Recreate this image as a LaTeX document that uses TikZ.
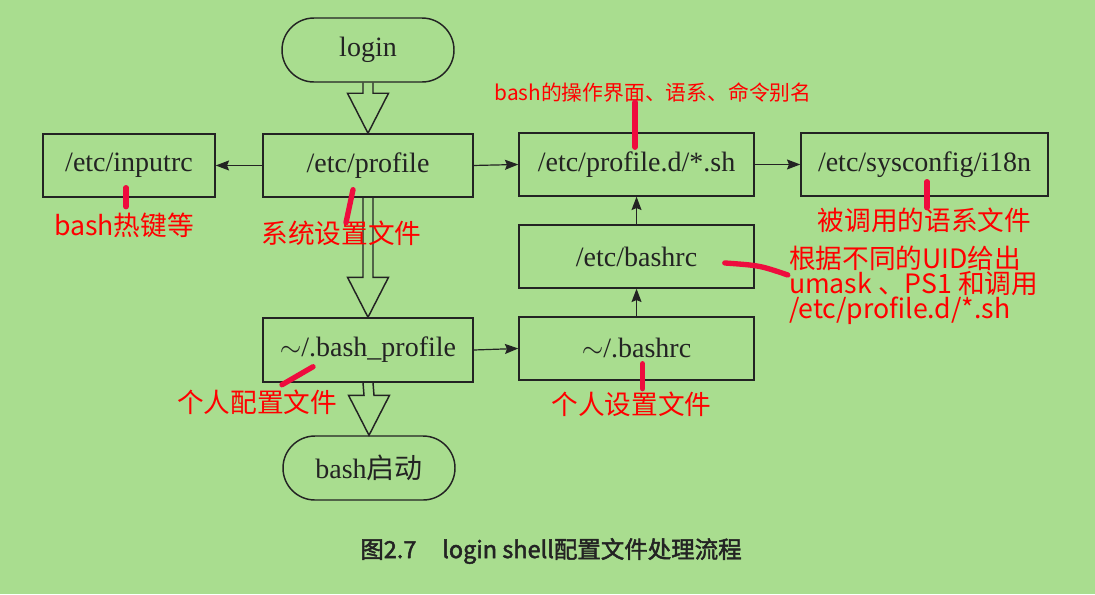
\documentclass[tikz,border=0pt]{standalone}
\usepackage{fontspec}
\setmainfont{Liberation Serif}
\newfontfamily\cjk{Noto Sans CJK SC}
\newfontfamily\capfont[FakeBold=2]{Noto Sans CJK SC}
\usepackage{tikz}
\usetikzlibrary{shapes,arrows.meta,calc,positioning}
\definecolor{paper}{RGB}{169,221,143}
\definecolor{ink}{RGB}{35,35,35}
\definecolor{pen}{RGB}{238,12,62}
\tikzset{
  block/.style    = {draw=ink, line width=1.1pt, rectangle, text=ink, minimum height=47.25pt, minimum width=157.5pt, font=\fontsize{21}{25}\selectfont},
  term/.style     = {block, rounded corners=24pt, minimum height=48pt, minimum width=129pt},
  link/.style     = {draw=ink, line width=0.9pt, -{Stealth[length=10pt,width=7.5pt,inset=1.5pt]}},
  note/.style     = {text=red, inner sep=1pt, font=\cjk\fontsize{20}{22}\selectfont},
  tick/.style     = {draw=pen, line width=4pt, line cap=round},
  fat/.style      = {draw=ink, line width=1.1pt, to path={
      ($(\tikztostart)+(-5,0)$) -- ($(\tikztotarget)+(-5,-40)$) -- ($(\tikztotarget)+(-20.5,-40)$)
      -- (\tikztotarget) -- ($(\tikztotarget)+(20.5,-40)$) -- ($(\tikztotarget)+(5,-40)$) -- ($(\tikztostart)+(5,0)$)}}
}

\begin{document}
\begin{tikzpicture}[x=0.75pt, y=-0.75pt]

\path[use as bounding box, fill=paper] (0,0) rectangle (1095,594);

% Main column
\node [term] (login) at (368,50) {login};
\node [block, below of=login, node distance=86.6pt] (profile) {/etc/profile};
\node [block, below of=profile, node distance=138.4pt, minimum height=48pt] (bashprofile) {$\sim$/.bash\_profile};
\node [term, below of=bashprofile, node distance=88.5pt, xshift=0.75pt] (bashstart) {bash{\cjk 启动}};

% Side boxes
\node [block, left of=profile, node distance=179.25pt, minimum width=129pt] (inputrc) {/etc/inputrc};
\node [block, right of=profile, node distance=201.4pt, minimum width=176.25pt, yshift=0.75pt] (profiled) {/etc/profile.d/*.sh};
\node [block, right of=profiled, node distance=216pt, minimum width=185.25pt] (i18n) {/etc/sysconfig/i18n};
\node [block, below of=profiled, node distance=69pt, minimum width=176.25pt] (bashrc) {/etc/bashrc};
\node [block, below of=bashrc, node distance=69pt, minimum width=176.25pt] (ubashrc) {$\sim$/.bashrc};

% Connections
\draw[fat] (login.south) to (profile.north);
\draw[fat] (profile.south) to (bashprofile.north);
\draw[fat] (bashprofile.south) to (bashstart.north);
\draw[link] (profile.west) -- (inputrc.east);
\draw[link] (profile.east) -- (profiled.west);
\draw[link] (profiled.east) -- (i18n.west);
\draw[link] (bashrc.north) -- (profiled.south);
\draw[link] (ubashrc.north) -- (bashrc.south);
\draw[link] (bashprofile.east) -- (ubashrc.west);

% Red notes
\node [note, above of=profiled, node distance=53.6pt, xshift=12.4pt, font=\cjk\fontsize{15.6}{18}\selectfont] (pdnote) {bash的操作界面、语系、命令别名};
\node [note, below of=inputrc, node distance=44.6pt, xshift=-3.75pt] (keynote) {bash热键等};
\node [note, below of=profile, node distance=50.6pt, xshift=-19.9pt] (sysnote) {系统设置文件};
\node [note, below of=i18n, node distance=41.6pt] (langnote) {被调用的语系文件};
\node [note, right=24.5pt of bashrc, yshift=-21.4pt, align=left, font=\cjk\fontsize{20}{18.9}\selectfont] (uidnote) {根据不同的UID给出\\umask 、PS1 和调用\\/etc/profile.d/*.sh};
\node [note, below of=bashprofile, node distance=39pt, xshift=-83.25pt] (bpnote) {个人配置文件};
\node [note, below of=ubashrc, node distance=41.6pt, xshift=-3.75pt] (brnote) {个人设置文件};

% Marks
\draw[tick] ($(profiled.north)+(-1.5,-30)$) -- ($(profiled.north)+(-1.5,15)$);
\draw[tick] ($(inputrc.south)+(-3,-10)$) -- ($(inputrc.south)+(-3,9)$);
\draw[tick] ($(profile.south)+(-15,-8)$) -- ($(profile.south)+(-22,25)$);
\draw[tick] ($(i18n.south)+(2.5,-15)$) -- ($(i18n.south)+(2.5,11)$);
\draw[tick] ($(bashrc.east)+(-30,6.5)$) .. controls ($(bashrc.east)+(5,9)$) .. ($(bashrc.east)+(33,18.5)$);
\draw[tick] ($(bashprofile.south)+(-86,2)$) -- ($(bashprofile.south)+(-55,-16)$);
\draw[tick] ($(ubashrc.south)+(6,-17)$) -- ($(ubashrc.south)+(6,8)$);

% Caption
\node [below of=bashstart, node distance=62.25pt, xshift=136.5pt, text=ink, font=\capfont\fontsize{17.6}{20}\selectfont] (caption) {图2.7\hspace{1.1em}login shell配置文件处理流程};

\end{tikzpicture}
\end{document}
